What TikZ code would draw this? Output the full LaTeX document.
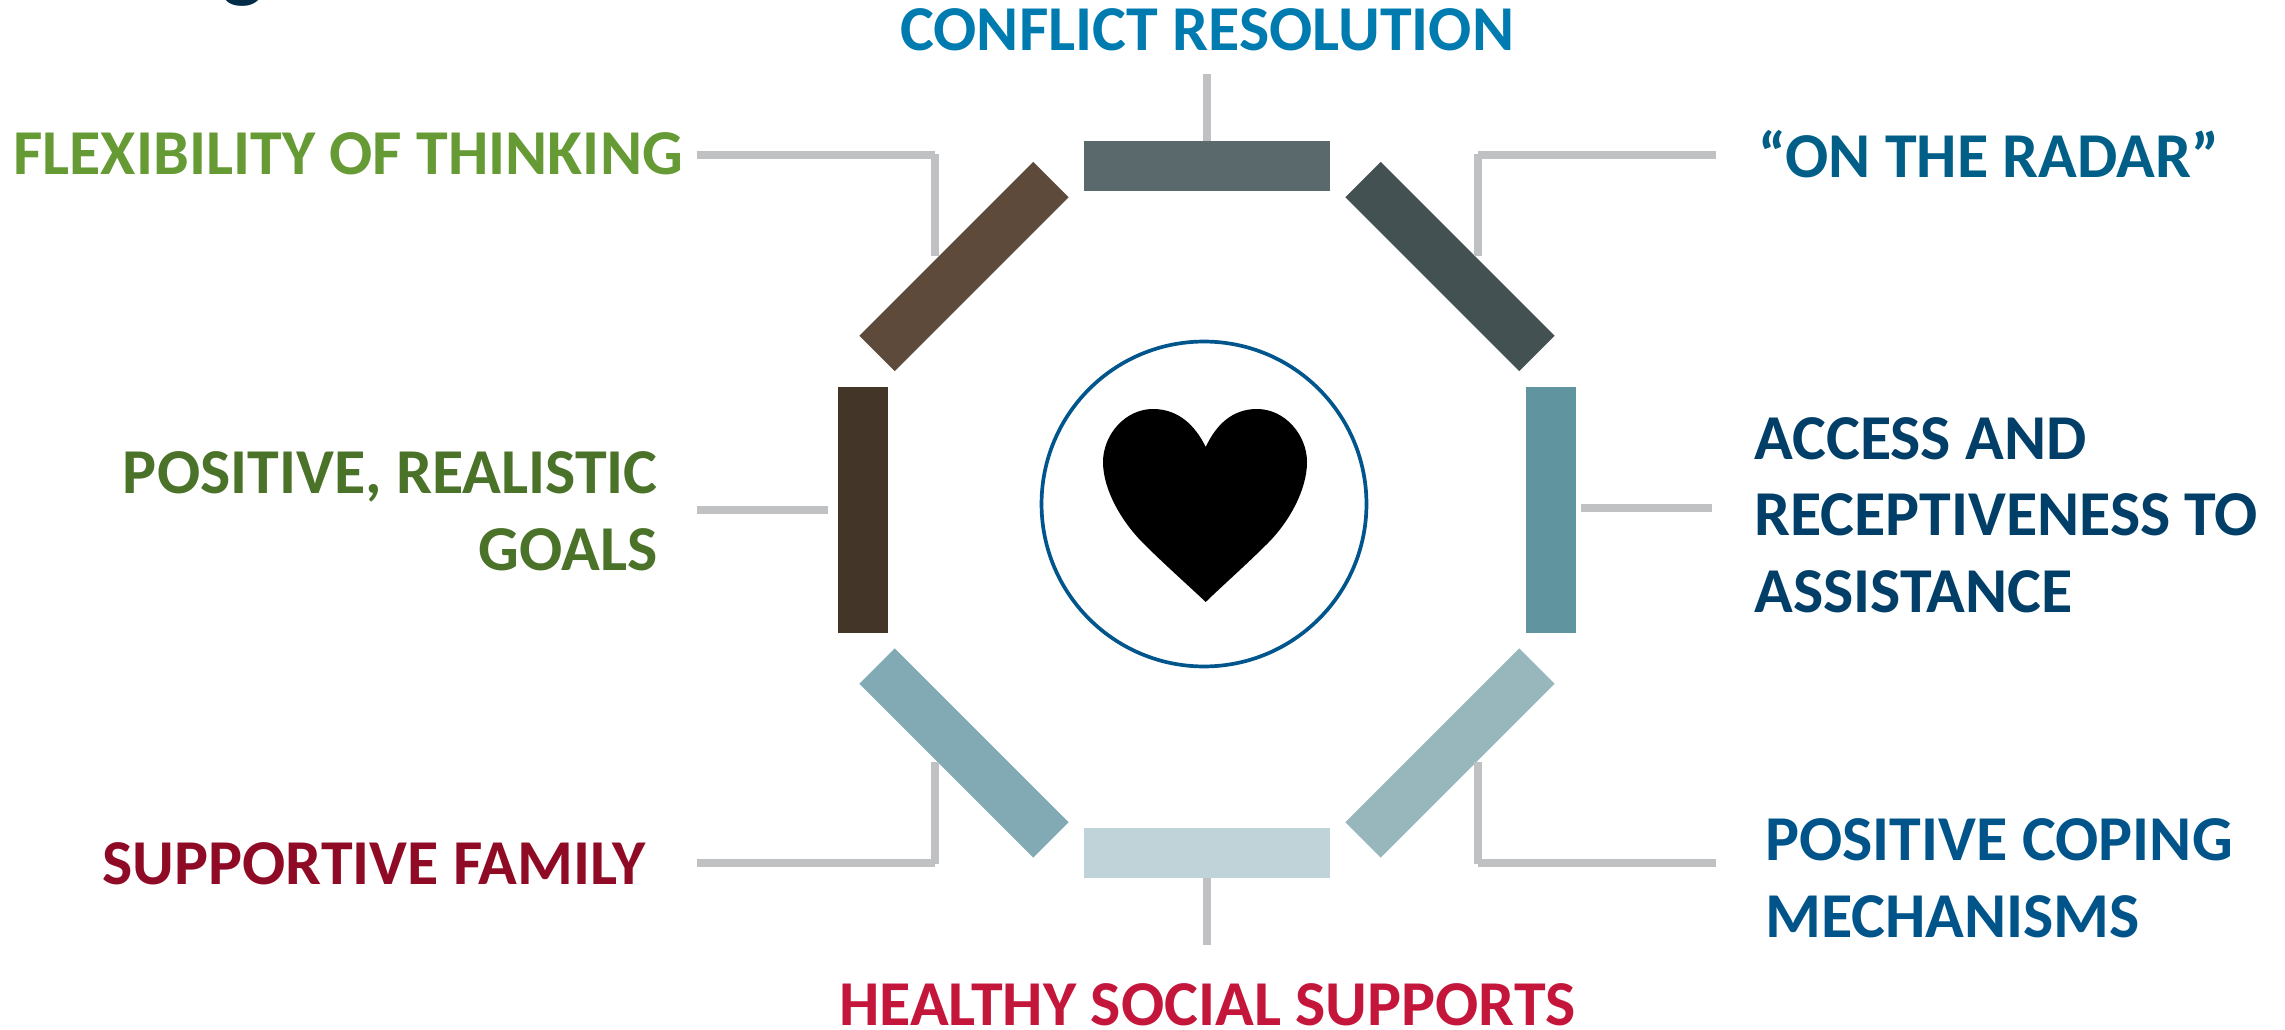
\documentclass[tikz,border=0pt]{standalone}
\usepackage{fontspec}
\setmainfont{Carlito}
\definecolor{wiregray}{HTML}{C0C1C3}
\definecolor{ringblue}{HTML}{00568C}
\definecolor{titlenavy}{HTML}{002B49}
\definecolor{topslate}{HTML}{5A696C}
\definecolor{nebar}{HTML}{435153}
\definecolor{rightbar}{HTML}{60949F}
\definecolor{sebar}{HTML}{97B7BD}
\definecolor{botbar}{HTML}{BFD3D8}
\definecolor{swbar}{HTML}{81AAB4}
\definecolor{leftbar}{HTML}{443529}
\definecolor{nwbar}{HTML}{5D4A3B}
\definecolor{conflictblue}{HTML}{007BB0}
\definecolor{radarblue}{HTML}{005E87}
\definecolor{accessblue}{HTML}{023F68}
\definecolor{copingblue}{HTML}{00548A}
\definecolor{healthyred}{HTML}{C4163B}
\definecolor{familyred}{HTML}{8F0B25}
\definecolor{goalsgreen}{HTML}{4A7229}
\definecolor{flexgreen}{HTML}{659A34}
\tikzset{
  bar/.style={fill=#1,draw=none,inner sep=0pt,minimum width=4.92cm,minimum height=1cm},
  wire/.style={draw=wiregray,line width=4.5pt},
  lab/.style={text=#1,inner sep=0pt,align=left,font=\fontsize{36.4}{43.46}\selectfont\bfseries}
}
\begin{document}
\begin{tikzpicture}[x=0.02cm,y=-0.02cm]
  \useasboundingbox (0,0) rectangle (2285,1030);
  \begin{scope}
    \clip (0,0) rectangle (2285,1030);
    \node [text=titlenavy,inner sep=0pt,anchor=base west,font=\fontsize{50}{60}\selectfont\bfseries] (titlecut) at (222,-8) {g};
  \end{scope}

  \node [bar=topslate] (top) at (1207,166) {};
  \node [bar=nebar,rotate=-45] (ne) at (1450,266.5) {};
  \node [bar=rightbar,rotate=90] (right) at (1551,510) {};
  \node [bar=sebar,rotate=45] (se) at (1450,753) {};
  \node [bar=botbar] (bot) at (1207,853) {};
  \node [bar=swbar,rotate=-45] (sw) at (964,753) {};
  \node [bar=leftbar,rotate=90] (left) at (863,510) {};
  \node [bar=nwbar,rotate=45] (nw) at (964,266.5) {};

  \node [circle,draw=ringblue,line width=2.1pt,inner sep=0pt,minimum size=6.5cm] (hub) at (1204,504) {};
  \fill (1205.7,447) .. controls (1195,425) and (1178,409) .. (1153,409)
    .. controls (1125,409) and (1103,435) .. (1103,462)
    .. controls (1103,490) and (1122,522) .. (1143,543)
    .. controls (1165,565) and (1190,587) .. (1205.7,602)
    .. controls (1221,587) and (1246,565) .. (1268,543)
    .. controls (1289,522) and (1307,490) .. (1307,462)
    .. controls (1307,435) and (1285,409) .. (1257,409)
    .. controls (1232,409) and (1216,425) .. (1205.7,447) -- cycle;

  \node [lab=conflictblue,anchor=base west] (conflict) at (900,51) {CONFLICT RESOLUTION};
  \node [lab=radarblue,anchor=base west] (radar) at (1758,178) {“ON THE RADAR”};
  \node [lab=accessblue,anchor=base west] (access) at (1754,612) {ACCESS AND\\RECEPTIVENESS TO\\ASSISTANCE};
  \node [lab=copingblue,anchor=base west] (coping) at (1765,937) {POSITIVE COPING\\MECHANISMS};
  \node [lab=healthyred,anchor=base west] (healthy) at (839,1025) {HEALTHY SOCIAL SUPPORTS};
  \node [lab=familyred,anchor=base west] (family) at (102,884) {SUPPORTIVE FAMILY};
  \node [lab=goalsgreen,anchor=base east,align=right] (goals) at (658,570) {POSITIVE, REALISTIC\\GOALS};
  \node [lab=flexgreen,anchor=base west] (flex) at (13,175) {FLEXIBILITY OF THINKING};

  \coordinate (topend) at (1207,74);
  \coordinate (botend) at (1207,945);
  \coordinate (radarend) at (1716,155);
  \coordinate (radarturn) at (1478,155);
  \coordinate (radarfoot) at (1478,256);
  \coordinate (accessstart) at (1581,508);
  \coordinate (accessend) at (1712,508);
  \coordinate (copingend) at (1716,863);
  \coordinate (copingturn) at (1478,863);
  \coordinate (copingfoot) at (1478,762);
  \coordinate (familyend) at (697,863);
  \coordinate (familyturn) at (935,863);
  \coordinate (familyfoot) at (935,762);
  \coordinate (goalsend) at (697,510);
  \coordinate (goalsstart) at (828,510);
  \coordinate (flexend) at (697,155);
  \coordinate (flexturn) at (935,155);
  \coordinate (flexfoot) at (935,256);

  \draw [wire] (topend) -- (top.north);
  \draw [wire] (bot.south) -- (botend);
  \draw [wire] (radarend) -- (radarturn);
  \draw [wire] (radarturn) ++(0,-1) -- (radarfoot);
  \draw [wire] (accessstart) -- (accessend);
  \draw [wire] (copingend) -- (copingturn);
  \draw [wire] (copingturn) ++(0,1) -- (copingfoot);
  \draw [wire] (familyend) -- (familyturn);
  \draw [wire] (familyturn) ++(0,1) -- (familyfoot);
  \draw [wire] (goalsend) -- (goalsstart);
  \draw [wire] (flexend) -- (flexturn);
  \draw [wire] (flexturn) ++(0,-1) -- (flexfoot);
\end{tikzpicture}
\end{document}
